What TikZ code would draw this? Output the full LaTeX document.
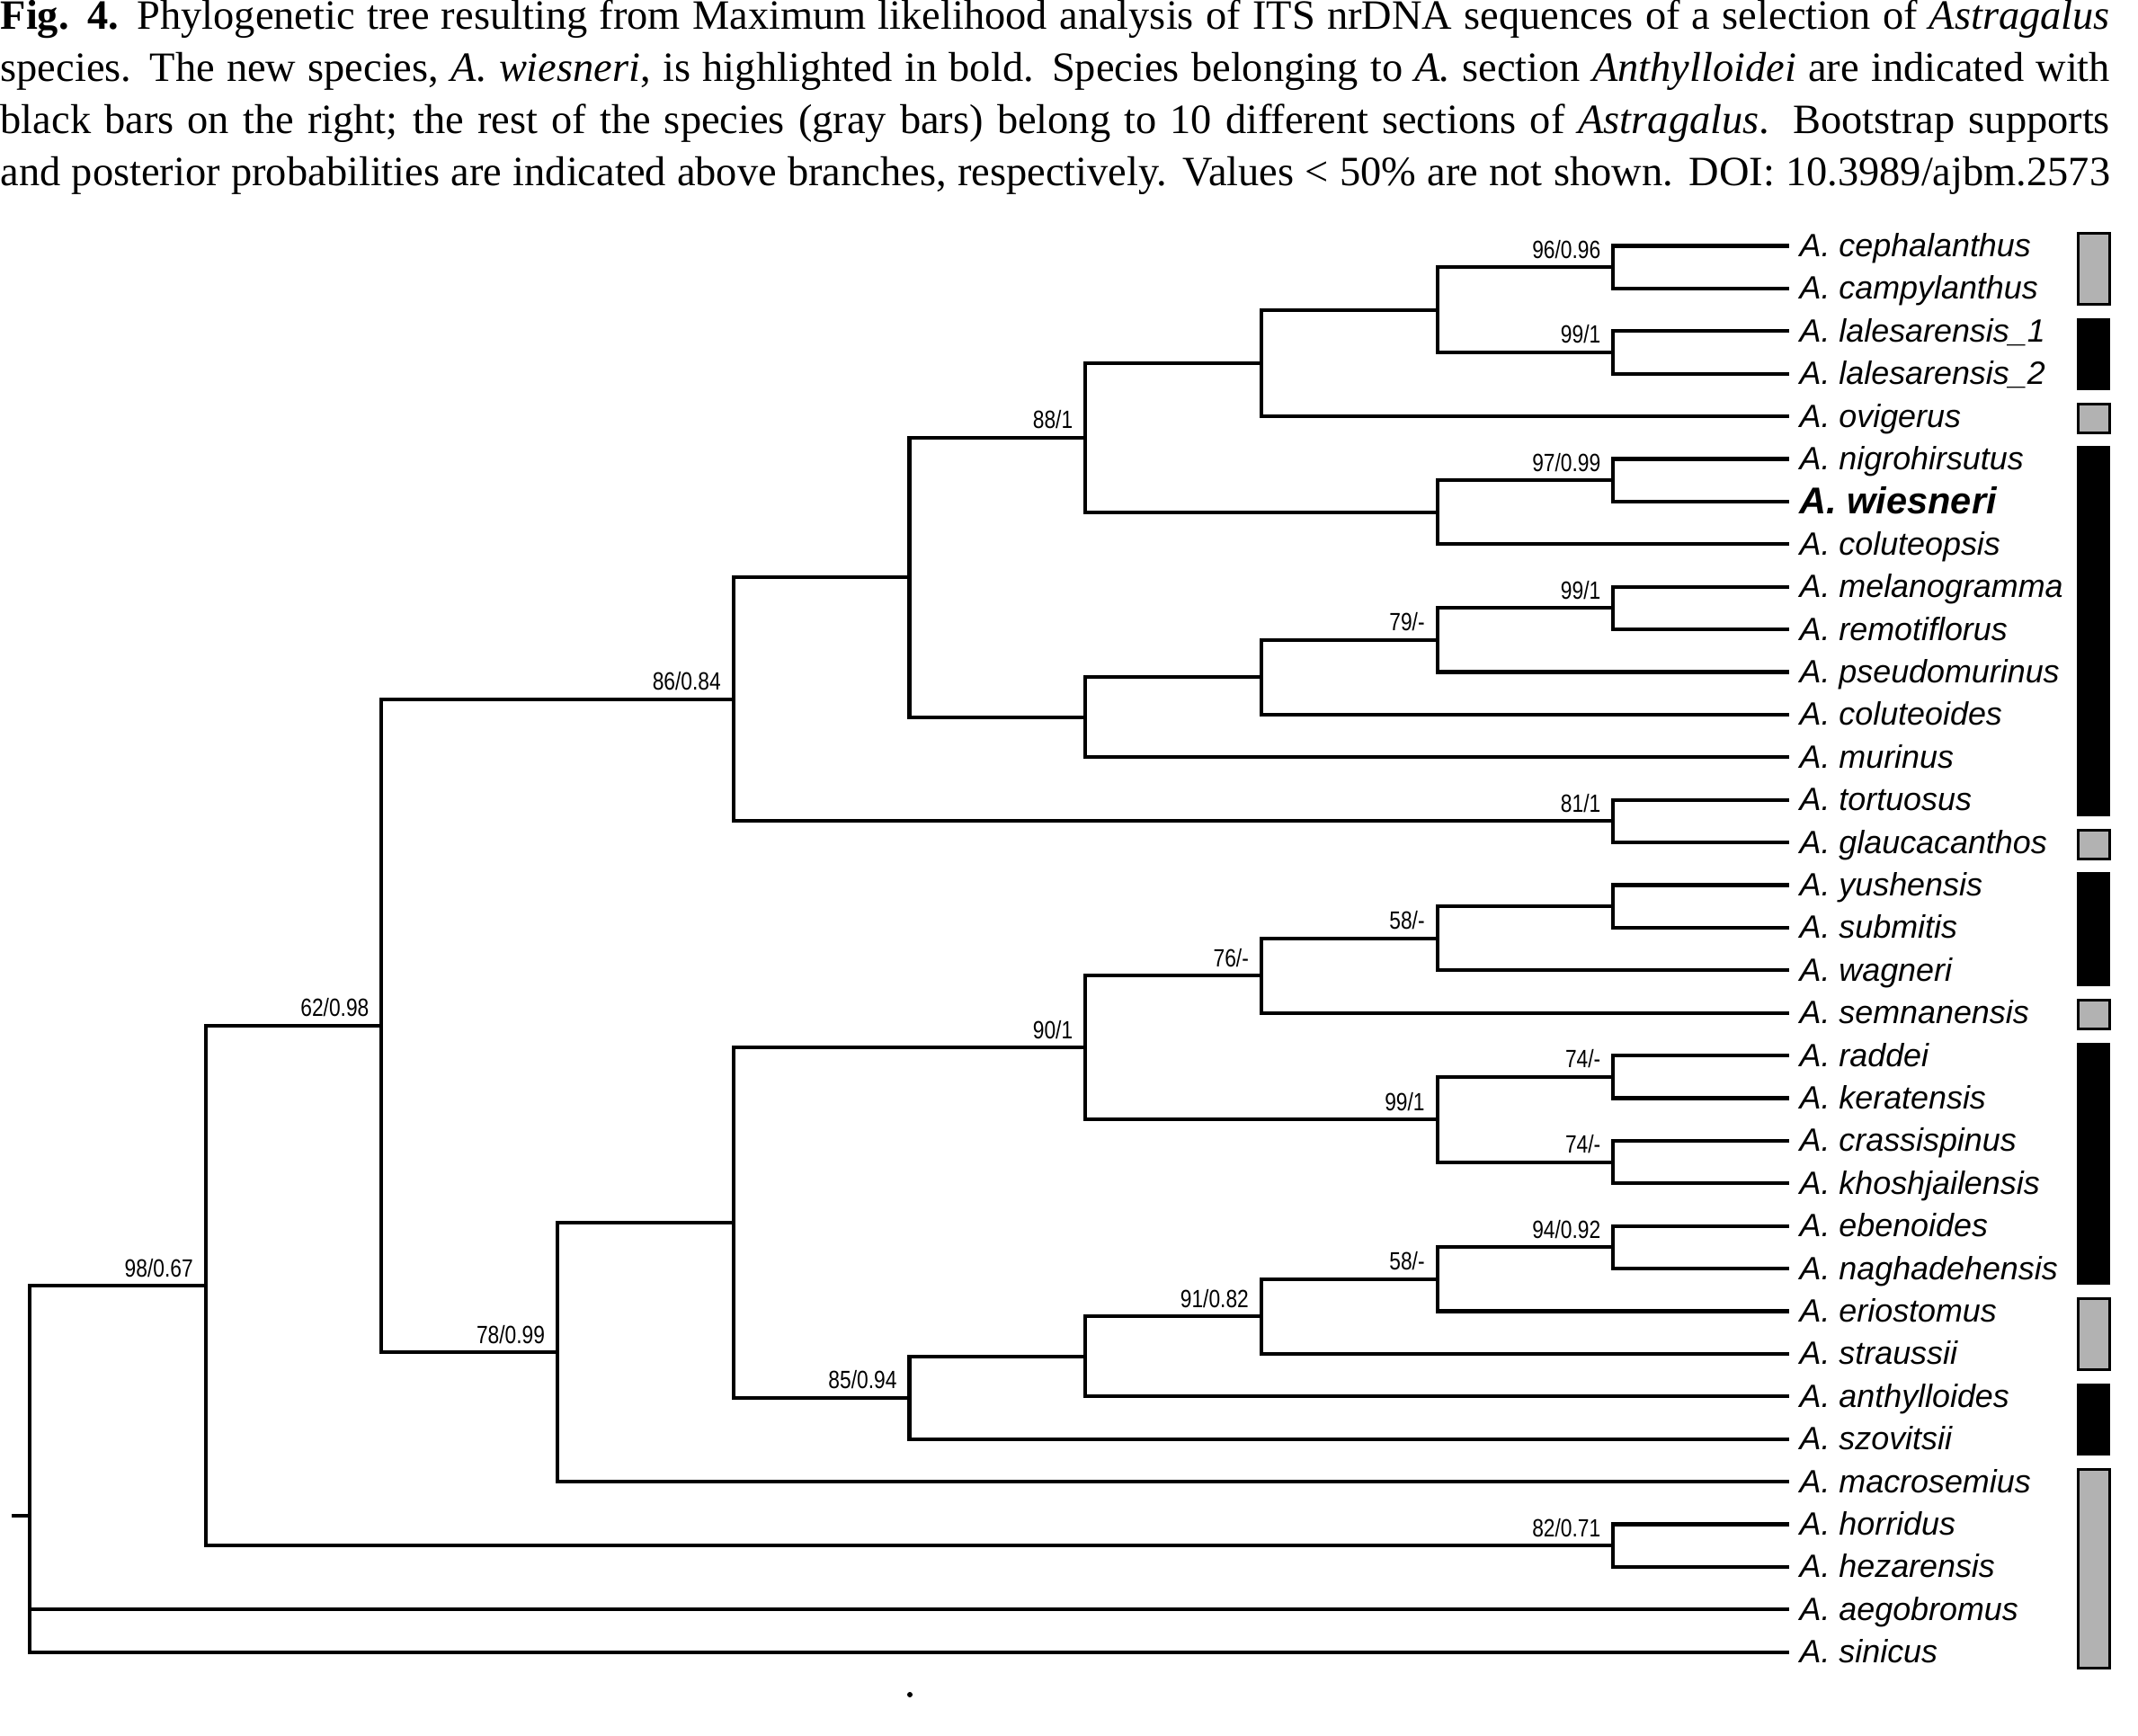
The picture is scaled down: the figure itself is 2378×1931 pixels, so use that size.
\documentclass[tikz,border=0pt]{standalone}
\usepackage{fontspec}
\setmainfont{Liberation Serif}
\newfontfamily\arial{Liberation Sans}
\newfontfamily\arialetroit[FakeStretch=0.82]{Liberation Sans}
\begin{document}
\begin{tikzpicture}[x=0.01cm,y=-0.01cm]
			\tikzstyle{fleche}=[line width=1.15pt]
			\tikzstyle{feuille}=[anchor=west,inner xsep=3.1pt,inner ysep=0pt,text height=8pt,text depth=1.2pt,font=\arial\itshape\fontsize{10.2}{12}\selectfont]
			\tikzstyle{etiquette}=[pos=1,anchor=base east,inner sep=0pt,shift={(-12,-10)},font=\arialetroit\fontsize{7.9}{9}\selectfont]
			\tikzstyle{barre noire}=[fill=black]
			\tikzstyle{barre grise}=[fill=black!30,draw=black,line width=0.85pt]
			\tikzstyle{legende}=[anchor=base west,inner sep=0pt,align=left,font=\fontsize{13.2}{16.5}\selectfont]
			\useasboundingbox (0,0) rectangle (2378,1931);
			\def\DistanceInterNiveaux{195.7}\def\DistanceInterFeuilles{47.4}\def\Haut{273.5}\def\Largeur{23.45cm}
			\def\NiveauA{33+(0)*\DistanceInterNiveaux}\def\NiveauB{33+(1)*\DistanceInterNiveaux}
			\def\NiveauC{33+(2)*\DistanceInterNiveaux}\def\NiveauD{33+(3)*\DistanceInterNiveaux}
			\def\NiveauE{33+(4)*\DistanceInterNiveaux}\def\NiveauF{33+(5)*\DistanceInterNiveaux}
			\def\NiveauG{33+(6)*\DistanceInterNiveaux}\def\NiveauH{33+(7)*\DistanceInterNiveaux}
			\def\NiveauI{33+(8)*\DistanceInterNiveaux}\def\NiveauJ{33+(9)*\DistanceInterNiveaux}
			\def\NiveauK{33+(10)*\DistanceInterNiveaux}\def\InterFeuilles{(1)*\DistanceInterFeuilles}
			\node[legende] (titre) at (0,207) {\hbox to\Largeur{\textbf{Fig. 4.} Phylogenetic tree resulting from Maximum likelihood analysis of ITS nrDNA sequences of a selection of \textit{Astragalus}}\\
				\hbox to\Largeur{species. The new species, \textit{A. wiesneri}, is highlighted in bold. Species belonging to \textit{A.} section \textit{Anthylloidei} are indicated with}\\
				\hbox to\Largeur{black bars on the right; the rest of the species (gray bars) belong to 10 different sections of \textit{Astragalus}. Bootstrap supports}\\
				\hbox to\Largeur{and posterior probabilities are indicated above branches, respectively. Values < 50\% are not shown. DOI: 10.3989/ajbm.2573}};
			\coordinate (R) at ({\NiveauA},{\Haut+(29.8)*\InterFeuilles}) ;
			\coordinate (R0) at (13,{\Haut+(29.8)*\InterFeuilles}) ;
			\coordinate (Ra) at ({\NiveauB},{\Haut+(24.4004)*\InterFeuilles}) ;
			\coordinate (Raa) at ({\NiveauC},{\Haut+(18.3008)*\InterFeuilles}) ;
			\coordinate (Raaa) at ({\NiveauE},{\Haut+(10.6406)*\InterFeuilles}) ;
			\coordinate (Raaaa) at ({\NiveauF},{\Haut+(7.7813)*\InterFeuilles}) ;
			\coordinate (Raaaaa) at ({\NiveauG},{\Haut+(4.5)*\InterFeuilles}) ;
			\coordinate (Raaaaaa) at ({\NiveauH},{\Haut+(2.75)*\InterFeuilles}) ;
			\coordinate (Raaaaaaa) at ({\NiveauI},{\Haut+(1.5)*\InterFeuilles}) ;
			\coordinate (Raaaaaaaa) at ({\NiveauJ},{\Haut+(0.5)*\InterFeuilles}) ;
			\coordinate (Raaaaaaab) at ({\NiveauJ},{\Haut+(2.5)*\InterFeuilles}) ;
			\coordinate (Raaaaab) at ({\NiveauI},{\Haut+(6.25)*\InterFeuilles}) ;
			\coordinate (Raaaaaba) at ({\NiveauJ},{\Haut+(5.5)*\InterFeuilles}) ;
			\coordinate (Raaaab) at ({\NiveauG},{\Haut+(11.0625)*\InterFeuilles}) ;
			\coordinate (Raaaaba) at ({\NiveauH},{\Haut+(10.125)*\InterFeuilles}) ;
			\coordinate (Raaaabaa) at ({\NiveauI},{\Haut+(9.25)*\InterFeuilles}) ;
			\coordinate (Raaaabaaa) at ({\NiveauJ},{\Haut+(8.5)*\InterFeuilles}) ;
			\coordinate (Raaab) at ({\NiveauJ},{\Haut+(13.5)*\InterFeuilles}) ;
			\coordinate (Raab) at ({\NiveauD},{\Haut+(25.9609)*\InterFeuilles}) ;
			\coordinate (Raaba) at ({\NiveauE},{\Haut+(22.9219)*\InterFeuilles}) ;
			\coordinate (Raabaa) at ({\NiveauG},{\Haut+(18.8125)*\InterFeuilles}) ;
			\coordinate (Raabaaa) at ({\NiveauH},{\Haut+(17.125)*\InterFeuilles}) ;
			\coordinate (Raabaaaa) at ({\NiveauI},{\Haut+(16.25)*\InterFeuilles}) ;
			\coordinate (Raabaaaaa) at ({\NiveauJ},{\Haut+(15.5)*\InterFeuilles}) ;
			\coordinate (Raabaab) at ({\NiveauI},{\Haut+(20.5)*\InterFeuilles}) ;
			\coordinate (Raabaaba) at ({\NiveauJ},{\Haut+(19.5)*\InterFeuilles}) ;
			\coordinate (Raabaabb) at ({\NiveauJ},{\Haut+(21.5)*\InterFeuilles}) ;
			\coordinate (Raabab) at ({\NiveauF},{\Haut+(27.0313)*\InterFeuilles}) ;
			\coordinate (Raababa) at ({\NiveauG},{\Haut+(26.0625)*\InterFeuilles}) ;
			\coordinate (Raababaa) at ({\NiveauH},{\Haut+(25.125)*\InterFeuilles}) ;
			\coordinate (Raababaaa) at ({\NiveauI},{\Haut+(24.25)*\InterFeuilles}) ;
			\coordinate (Raababaaaa) at ({\NiveauJ},{\Haut+(23.5)*\InterFeuilles}) ;
			\coordinate (Rab) at ({\NiveauJ},{\Haut+(30.5)*\InterFeuilles}) ;
			\node[feuille] (Raaaaaaaaa) at ({\NiveauK},{\Haut+(0)*\InterFeuilles}) {A. cephalanthus};
			\node[feuille] (Raaaaaaaab) at ({\NiveauK},{\Haut+(1)*\InterFeuilles}) {A. campylanthus};
			\node[feuille] (Raaaaaaaba) at ({\NiveauK},{\Haut+(2)*\InterFeuilles}) {A. lalesarensis\_1};
			\node[feuille] (Raaaaaaabb) at ({\NiveauK},{\Haut+(3)*\InterFeuilles}) {A. lalesarensis\_2};
			\node[feuille] (Raaaaaab) at ({\NiveauK},{\Haut+(4)*\InterFeuilles}) {A. ovigerus};
			\node[feuille] (Raaaaabaa) at ({\NiveauK},{\Haut+(5)*\InterFeuilles}) {A. nigrohirsutus};
			\node[feuille,text height=9.2pt,font=\arial\bfseries\itshape\fontsize{11.8}{14}\selectfont] (Raaaaabab) at ({\NiveauK},{\Haut+(6)*\InterFeuilles}) {A. wiesneri};
			\node[feuille] (Raaaaabb) at ({\NiveauK},{\Haut+(7)*\InterFeuilles}) {A. coluteopsis};
			\node[feuille] (Raaaabaaaa) at ({\NiveauK},{\Haut+(8)*\InterFeuilles}) {A. melanogramma};
			\node[feuille] (Raaaabaaab) at ({\NiveauK},{\Haut+(9)*\InterFeuilles}) {A. remotiflorus};
			\node[feuille] (Raaaabaab) at ({\NiveauK},{\Haut+(10)*\InterFeuilles}) {A. pseudomurinus};
			\node[feuille] (Raaaabab) at ({\NiveauK},{\Haut+(11)*\InterFeuilles}) {A. coluteoides};
			\node[feuille] (Raaaabb) at ({\NiveauK},{\Haut+(12)*\InterFeuilles}) {A. murinus};
			\node[feuille] (Raaaba) at ({\NiveauK},{\Haut+(13)*\InterFeuilles}) {A. tortuosus};
			\node[feuille] (Raaabb) at ({\NiveauK},{\Haut+(14)*\InterFeuilles}) {A. glaucacanthos};
			\node[feuille] (Raabaaaaaa) at ({\NiveauK},{\Haut+(15)*\InterFeuilles}) {A. yushensis};
			\node[feuille] (Raabaaaaab) at ({\NiveauK},{\Haut+(16)*\InterFeuilles}) {A. submitis};
			\node[feuille] (Raabaaaab) at ({\NiveauK},{\Haut+(17)*\InterFeuilles}) {A. wagneri};
			\node[feuille] (Raabaaab) at ({\NiveauK},{\Haut+(18)*\InterFeuilles}) {A. semnanensis};
			\node[feuille] (Raabaabaa) at ({\NiveauK},{\Haut+(19)*\InterFeuilles}) {A. raddei};
			\node[feuille] (Raabaabab) at ({\NiveauK},{\Haut+(20)*\InterFeuilles}) {A. keratensis};
			\node[feuille] (Raabaabba) at ({\NiveauK},{\Haut+(21)*\InterFeuilles}) {A. crassispinus};
			\node[feuille] (Raabaabbb) at ({\NiveauK},{\Haut+(22)*\InterFeuilles}) {A. khoshjailensis};
			\node[feuille] (Raababaaaaa) at ({\NiveauK},{\Haut+(23)*\InterFeuilles}) {A. ebenoides};
			\node[feuille] (Raababaaaab) at ({\NiveauK},{\Haut+(24)*\InterFeuilles}) {A. naghadehensis};
			\node[feuille] (Raababaaab) at ({\NiveauK},{\Haut+(25)*\InterFeuilles}) {A. eriostomus};
			\node[feuille] (Raababaab) at ({\NiveauK},{\Haut+(26)*\InterFeuilles}) {A. straussii};
			\node[feuille] (Raababab) at ({\NiveauK},{\Haut+(27)*\InterFeuilles}) {A. anthylloides};
			\node[feuille] (Raababb) at ({\NiveauK},{\Haut+(28)*\InterFeuilles}) {A. szovitsii};
			\node[feuille] (Raabb) at ({\NiveauK},{\Haut+(29)*\InterFeuilles}) {A. macrosemius};
			\node[feuille] (Raba) at ({\NiveauK},{\Haut+(30)*\InterFeuilles}) {A. horridus};
			\node[feuille] (Rabb) at ({\NiveauK},{\Haut+(31)*\InterFeuilles}) {A. hezarensis};
			\node[feuille] (Rb) at ({\NiveauK},{\Haut+(32)*\InterFeuilles}) {A. aegobromus};
			\node[feuille] (Rc) at ({\NiveauK},{\Haut+(33)*\InterFeuilles}) {A. sinicus};
			\draw[fleche] (R0)--(R) ; \draw[fleche] (R)|-(Ra) node[etiquette] (sRa) {98/0.67};
			\draw[fleche] (R)|-(Rb.west) ; \draw[fleche] (R)|-(Rc.west) ;
			\draw[fleche] (Ra)|-(Raa) node[etiquette] (sRaa) {62/0.98}; \draw[fleche] (Ra)|-(Rab) node[etiquette] (sRab) {82/0.71};
			\draw[fleche] (Rab)|-(Raba.west) ; \draw[fleche] (Rab)|-(Rabb.west) ;
			\draw[fleche] (Raa)|-(Raaa) node[etiquette] (sRaaa) {86/0.84}; \draw[fleche] (Raa)|-(Raab) node[etiquette] (sRaab) {78/0.99};
			\draw[fleche] (Raaa)|-(Raaaa) ; \draw[fleche] (Raaa)|-(Raaab) node[etiquette] (sRaaab) {81/1};
			\draw[fleche] (Raaab)|-(Raaaba.west) ; \draw[fleche] (Raaab)|-(Raaabb.west) ;
			\draw[fleche] (Raaaa)|-(Raaaaa) node[etiquette] (sRaaaaa) {88/1}; \draw[fleche] (Raaaa)|-(Raaaab) ;
			\draw[fleche] (Raaaaa)|-(Raaaaaa) ; \draw[fleche] (Raaaaa)|-(Raaaaab) ;
			\draw[fleche] (Raaaaaa)|-(Raaaaaaa) ; \draw[fleche] (Raaaaaa)|-(Raaaaaab.west) ;
			\draw[fleche] (Raaaaaaa)|-(Raaaaaaaa) node[etiquette] (sRaaaaaaaa) {96/0.96}; \draw[fleche] (Raaaaaaa)|-(Raaaaaaab) node[etiquette] (sRaaaaaaab) {99/1};
			\draw[fleche] (Raaaaaaaa)|-(Raaaaaaaaa.west) ; \draw[fleche] (Raaaaaaaa)|-(Raaaaaaaab.west) ;
			\draw[fleche] (Raaaaaaab)|-(Raaaaaaaba.west) ; \draw[fleche] (Raaaaaaab)|-(Raaaaaaabb.west) ;
			\draw[fleche] (Raaaaab)|-(Raaaaaba) node[etiquette] (sRaaaaaba) {97/0.99}; \draw[fleche] (Raaaaab)|-(Raaaaabb.west) ;
			\draw[fleche] (Raaaaaba)|-(Raaaaabaa.west) ; \draw[fleche] (Raaaaaba)|-(Raaaaabab.west) ;
			\draw[fleche] (Raaaab)|-(Raaaaba) ; \draw[fleche] (Raaaab)|-(Raaaabb.west) ;
			\draw[fleche] (Raaaaba)|-(Raaaabaa) node[etiquette] (sRaaaabaa) {79/-}; \draw[fleche] (Raaaaba)|-(Raaaabab.west) ;
			\draw[fleche] (Raaaabaa)|-(Raaaabaaa) node[etiquette] (sRaaaabaaa) {99/1}; \draw[fleche] (Raaaabaa)|-(Raaaabaab.west) ;
			\draw[fleche] (Raaaabaaa)|-(Raaaabaaaa.west) ; \draw[fleche] (Raaaabaaa)|-(Raaaabaaab.west) ;
			\draw[fleche] (Raab)|-(Raaba) ; \draw[fleche] (Raab)|-(Raabb.west) ;
			\draw[fleche] (Raaba)|-(Raabaa) node[etiquette] (sRaabaa) {90/1}; \draw[fleche] (Raaba)|-(Raabab) node[etiquette] (sRaabab) {85/0.94};
			\draw[fleche] (Raabaa)|-(Raabaaa) node[etiquette] (sRaabaaa) {76/-}; \draw[fleche] (Raabaa)|-(Raabaab) node[etiquette] (sRaabaab) {99/1};
			\draw[fleche] (Raabaaa)|-(Raabaaaa) node[etiquette] (sRaabaaaa) {58/-}; \draw[fleche] (Raabaaa)|-(Raabaaab.west) ;
			\draw[fleche] (Raabaaaa)|-(Raabaaaaa) ; \draw[fleche] (Raabaaaa)|-(Raabaaaab.west) ;
			\draw[fleche] (Raabaaaaa)|-(Raabaaaaaa.west) ; \draw[fleche] (Raabaaaaa)|-(Raabaaaaab.west) ;
			\draw[fleche] (Raabaab)|-(Raabaaba) node[etiquette] (sRaabaaba) {74/-}; \draw[fleche] (Raabaab)|-(Raabaabb) node[etiquette] (sRaabaabb) {74/-};
			\draw[fleche] (Raabaaba)|-(Raabaabaa.west) ; \draw[fleche] (Raabaaba)|-(Raabaabab.west) ;
			\draw[fleche] (Raabaabb)|-(Raabaabba.west) ; \draw[fleche] (Raabaabb)|-(Raabaabbb.west) ;
			\draw[fleche] (Raabab)|-(Raababa) ; \draw[fleche] (Raabab)|-(Raababb.west) ;
			\draw[fleche] (Raababa)|-(Raababaa) node[etiquette] (sRaababaa) {91/0.82}; \draw[fleche] (Raababa)|-(Raababab.west) ;
			\draw[fleche] (Raababaa)|-(Raababaaa) node[etiquette] (sRaababaaa) {58/-}; \draw[fleche] (Raababaa)|-(Raababaab.west) ;
			\draw[fleche] (Raababaaa)|-(Raababaaaa) node[etiquette] (sRaababaaaa) {94/0.92}; \draw[fleche] (Raababaaa)|-(Raababaaab.west) ;
			\draw[fleche] (Raababaaaa)|-(Raababaaaaa.west) ; \draw[fleche] (Raababaaaa)|-(Raababaaaab.west) ;
			\draw[barre grise] (2311,{\Haut+(0)*\InterFeuilles-14}) rectangle (2346,{\Haut+(1)*\InterFeuilles+18});
			\fill[barre noire] (2310,{\Haut+(2)*\InterFeuilles-14}) rectangle (2347,{\Haut+(3)*\InterFeuilles+18});
			\draw[barre grise] (2311,{\Haut+(4)*\InterFeuilles-14}) rectangle (2346,{\Haut+(4)*\InterFeuilles+18});
			\fill[barre noire] (2310,{\Haut+(5)*\InterFeuilles-14}) rectangle (2347,{\Haut+(13)*\InterFeuilles+18});
			\draw[barre grise] (2311,{\Haut+(14)*\InterFeuilles-14}) rectangle (2346,{\Haut+(14)*\InterFeuilles+18});
			\fill[barre noire] (2310,{\Haut+(15)*\InterFeuilles-14}) rectangle (2347,{\Haut+(17)*\InterFeuilles+18});
			\draw[barre grise] (2311,{\Haut+(18)*\InterFeuilles-14}) rectangle (2346,{\Haut+(18)*\InterFeuilles+18});
			\fill[barre noire] (2310,{\Haut+(19)*\InterFeuilles-14}) rectangle (2347,{\Haut+(24)*\InterFeuilles+18});
			\draw[barre grise] (2311,{\Haut+(25)*\InterFeuilles-14}) rectangle (2346,{\Haut+(26)*\InterFeuilles+18});
			\fill[barre noire] (2310,{\Haut+(27)*\InterFeuilles-14}) rectangle (2347,{\Haut+(28)*\InterFeuilles+18});
			\draw[barre grise] (2311,{\Haut+(29)*\InterFeuilles-14}) rectangle (2346,{\Haut+(33)*\InterFeuilles+18});
			\fill (1012,1885) circle (3);
		\end{tikzpicture}
\end{document}
